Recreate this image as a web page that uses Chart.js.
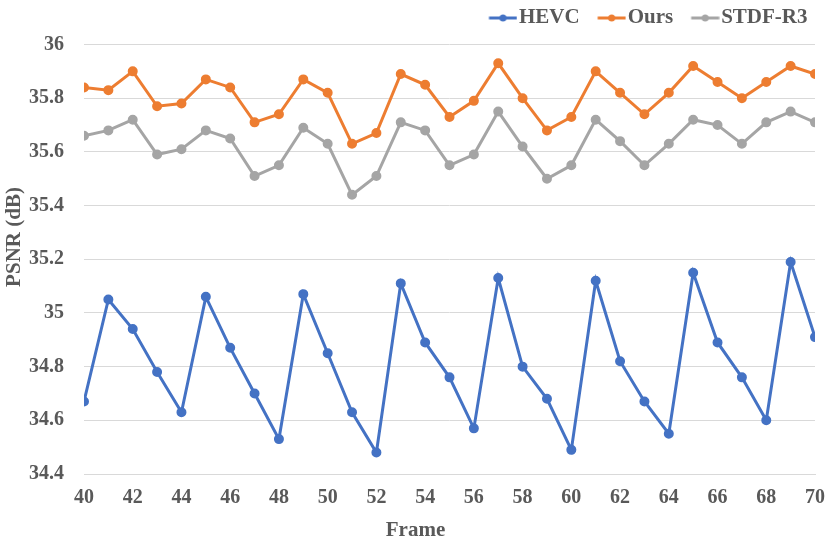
<!DOCTYPE html>
<html>
<head>
<meta charset="utf-8">
<script src="https://cdn.jsdelivr.net/npm/chart.js@4.4.0/dist/chart.umd.min.js"></script>
<style>
  html, body { margin: 0; padding: 0; background: #fff; }
  #wrap { width: 831px; height: 547px; }
</style>
</head>
<body>
<div id="wrap"><canvas id="psnrChart"></canvas></div>
<script>
// Frame numbers and PSNR per method
const frames = [40, 41, 42, 43, 44, 45, 46, 47, 48, 49, 50, 51, 52, 53, 54, 55,
  56, 57, 58, 59, 60, 61, 62, 63, 64, 65, 66, 67, 68, 69, 70];
const hevc = [34.67, 35.05, 34.94, 34.78, 34.63, 35.06, 34.87, 34.70, 34.53, 35.07, 34.85,
  34.63, 34.48, 35.11, 34.89, 34.76, 34.57, 35.13, 34.80, 34.68, 34.49, 35.12, 34.82,
  34.67, 34.55, 35.15, 34.89, 34.76, 34.60, 35.19, 34.91];
const ours = [35.84, 35.83, 35.90, 35.77, 35.78, 35.87, 35.84, 35.71, 35.74, 35.87, 35.82,
  35.63, 35.67, 35.89, 35.85, 35.73, 35.79, 35.93, 35.80, 35.68, 35.73, 35.90, 35.82,
  35.74, 35.82, 35.92, 35.86, 35.80, 35.86, 35.92, 35.89];
const stdf = [35.66, 35.68, 35.72, 35.59, 35.61, 35.68, 35.65, 35.51, 35.55, 35.69, 35.63,
  35.44, 35.51, 35.71, 35.68, 35.55, 35.59, 35.75, 35.62, 35.50, 35.55, 35.72, 35.64,
  35.55, 35.63, 35.72, 35.70, 35.63, 35.71, 35.75, 35.71];
const yTicks = [34.4, 34.6, 34.8, 35, 35.2, 35.4, 35.6, 35.8, 36];

const serif = "'Liberation Serif', 'Times New Roman', serif";
const textGray = '#595959';

// legend marker: short line with a dot, drawn on the right part of the image
// so it sits just before the label text
function legendMarker(color) {
  const c = document.createElement('canvas');
  c.width = 48; c.height = 12;
  const g = c.getContext('2d');
  g.strokeStyle = color; g.lineWidth = 3;
  g.beginPath(); g.moveTo(19.5, 6); g.lineTo(47.5, 6); g.stroke();
  g.fillStyle = color;
  g.beginPath(); g.arc(33.5, 6, 3.5, 0, Math.PI * 2); g.fill();
  return c;
}

function series(label, values, color) {
  return {
    label: label,
    data: frames.map((f, i) => ({ x: f, y: values[i] })),
    borderColor: color,
    backgroundColor: color,
    borderWidth: 3,
    pointRadius: 3.5,
    pointHoverRadius: 3.5,
    pointStyle: 'circle',
    tension: 0,
    legendMarker: legendMarker(color)
  };
}

// axis titles centred the way the spreadsheet does it (on the whole chart, not the plot)
const axisTitles = {
  id: 'axisTitles',
  afterLayout(chart) {
    // lift the legend row a little
    chart.legend.top -= 6;
    chart.legend.bottom -= 6;
  },
  afterDraw(chart) {
    const ctx = chart.ctx;
    ctx.save();
    ctx.fillStyle = textGray;
    ctx.font = 'bold 21px ' + serif;
    ctx.textAlign = 'center';
    ctx.textBaseline = 'middle';
    ctx.fillText('Frame', chart.width / 2, 531);
    ctx.translate(15, 237);
    ctx.rotate(-Math.PI / 2);
    ctx.fillText('PSNR (dB)', 0, 0);
    ctx.restore();
  }
};

new Chart(document.getElementById('psnrChart'), {
  type: 'line',
  data: {
    datasets: [
      series('HEVC', hevc, '#4472C4'),
      series('Ours', ours, '#ED7D31'),
      series('STDF-R3', stdf, '#A5A5A5')
    ]
  },
  plugins: [axisTitles],
  options: {
    responsive: true,
    maintainAspectRatio: false,
    animation: false,
    layout: { padding: { left: 9, right: 16, top: 6, bottom: 37 } },
    plugins: {
      tooltip: { enabled: false },
      legend: {
        position: 'top',
        align: 'end',
        labels: {
          usePointStyle: true,
          pointStyleWidth: 30,
          color: textGray,
          font: { family: serif, size: 21, weight: 'bold' },
          padding: 7.5,
          generateLabels: chart => chart.data.datasets.map((ds, i) => ({
            text: ds.label,
            pointStyle: ds.legendMarker,
            fontColor: textGray,
            strokeStyle: ds.borderColor,
            fillStyle: ds.borderColor,
            lineWidth: 0,
            datasetIndex: i
          }))
        }
      }
    },
    scales: {
      x: {
        type: 'linear',
        min: 40,
        max: 70,
        ticks: {
          stepSize: 2,
          color: textGray,
          font: { family: serif, size: 20, weight: 'bold' },
          padding: 0
        },
        // invisible tick marks push the labels down without widening the side padding
        grid: { display: true, color: 'rgba(0,0,0,0)', drawOnChartArea: false, drawTicks: true, tickLength: 12 },
        border: { display: true, color: '#d9d9d9', width: 1 }
      },
      y: {
        min: 34.4,
        max: 36,
        afterBuildTicks: axis => { axis.ticks = yTicks.map(v => ({ value: v })); },
        ticks: {
          color: textGray,
          font: { family: serif, size: 20, weight: 'bold' },
          padding: 20,
          callback: v => String(Math.round(v * 10) / 10)
        },
        grid: { color: '#d9d9d9', lineWidth: 1, drawTicks: false },
        border: { display: false }
      }
    }
  }
});
</script>
</body>
</html>
